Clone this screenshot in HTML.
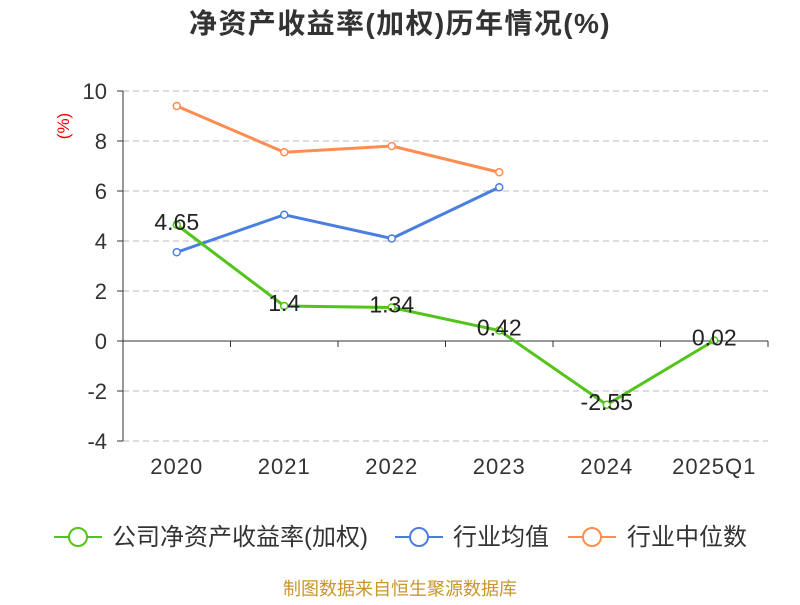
<!DOCTYPE html>
<html><head><meta charset="utf-8"><style>
body{margin:0;background:#fff;}
svg text{font-family:"Liberation Sans","Noto Sans CJK SC",sans-serif;}
</style></head><body>
<svg width="800" height="600" xmlns="http://www.w3.org/2000/svg">
<text x="400" y="33" text-anchor="middle" font-size="28" font-weight="bold" letter-spacing="1.4" fill="#333">净资产收益率(加权)历年情况(%)</text>
<text transform="translate(69,126) rotate(-90)" text-anchor="middle" font-size="17" fill="#e00">(%)</text>
<g id="grid"></g><g id="axes"></g><g id="series"></g>
<g>
<g><line x1="54" y1="537" x2="102" y2="537" stroke="#52c41a" stroke-width="2"/><circle cx="78" cy="537" r="9" fill="#fff" stroke="#52c41a" stroke-width="2"/><text x="112" y="545" font-size="24" fill="#333">公司净资产收益率(加权)</text></g>
<g><line x1="395" y1="537" x2="443" y2="537" stroke="#4a7fe0" stroke-width="2"/><circle cx="419" cy="537" r="9" fill="#fff" stroke="#4a7fe0" stroke-width="2"/><text x="453" y="545" font-size="24" fill="#333">行业均值</text></g>
<g><line x1="568" y1="537" x2="616" y2="537" stroke="#ff8c50" stroke-width="2"/><circle cx="592" cy="537" r="9" fill="#fff" stroke="#ff8c50" stroke-width="2"/><text x="627" y="545" font-size="24" fill="#333">行业中位数</text></g>
</g>
<text x="400" y="595" text-anchor="middle" font-size="18" fill="#c8962a">制图数据来自恒生聚源数据库</text>
</svg>
<script>
const categories=["2020","2021","2022","2023","2024","2025Q1"];
const companyValues=[4.65,1.4,1.34,0.42,-2.55,0.02];
const avgValues=[3.55,5.05,4.1,6.15];
const medianValues=[9.4,7.55,7.8,6.75];
const yTicks=[-4,-2,0,2,4,6,8,10];
const NS="http://www.w3.org/2000/svg";
const L=123,R=768,T=91,B=441,yMin=-4,yMax=10;
const bw=(R-L)/categories.length;
const xs=i=>L+bw*(i+0.5);
const ys=v=>B-(v-yMin)/(yMax-yMin)*(B-T);
function mk(tag,at,parent){const e=document.createElementNS(NS,tag);for(const k in at)e.setAttribute(k,at[k]);document.getElementById(parent).appendChild(e);return e;}
yTicks.forEach(t=>{
 if(t!==0){const g=mk('line',{x1:L,x2:R,y1:ys(t),y2:ys(t),stroke:'#bbb','stroke-dasharray':'6,4'},'grid');
 
 }
 const tk=mk('line',{x1:L-6,x2:L,y1:ys(t),y2:ys(t),stroke:'#333'},'axes');
 
 
 const tx=mk('text',{x:L-16,y:ys(t)+8,'text-anchor':'end','font-size':22,fill:'#333'},'axes');tx.textContent=t;
 
 
});
const ya=mk('line',{x1:L,x2:L,y1:T,y2:B,stroke:'#333'},'axes');


const xa=mk('line',{x1:L,x2:R,y1:ys(0),y2:ys(0),stroke:'#333'},'axes');


for(let i=0;i<=categories.length;i++){const tk=mk('line',{x1:L+bw*i,x2:L+bw*i,y1:ys(0),y2:ys(0)+6,stroke:'#333'},'axes');
 
 }
categories.forEach((c,i)=>{const tx=mk('text',{x:xs(i),y:474,'text-anchor':'middle','font-size':22,'letter-spacing':1,fill:'#333'},'axes');tx.textContent=c;
 
 });
function series(vals,color,name,labels){
 const p=mk('polyline',{points:vals.map((v,i)=>xs(i)+','+ys(v)).join(' '),fill:'none',stroke:color,'stroke-width':3},'series');
 
 
 vals.forEach((v,i)=>{const c=mk('circle',{cx:xs(i),cy:ys(v),r:3.5,fill:'#fff',stroke:color,'stroke-width':1.5},'series');
  
  
  if(labels){const t=mk('text',{x:xs(i),y:ys(v)+5,'text-anchor':'middle','font-size':23,fill:'#222'},'series');t.textContent=v;
  
  }});
}
series(medianValues,'#ff8c50','industry-median',false);
series(avgValues,'#4a7fe0','industry-avg',false);
series(companyValues,'#52c41a','company',true);
</script>
</body></html>
